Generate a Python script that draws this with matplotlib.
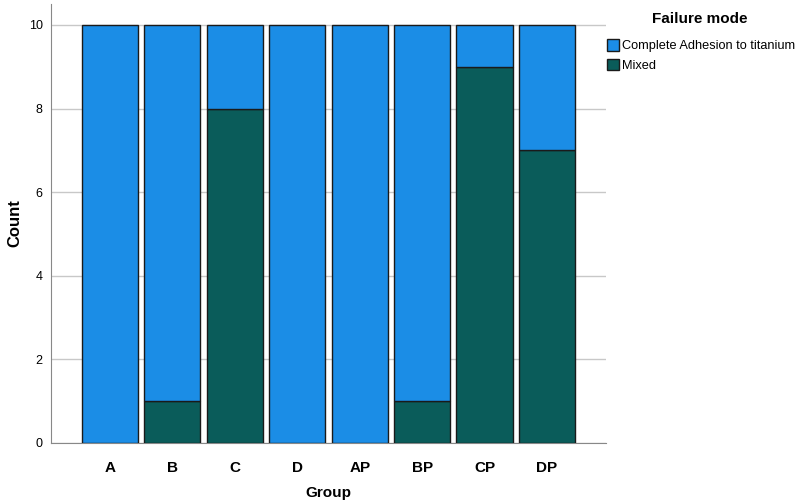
import numpy as np
import matplotlib.pyplot as plt
from matplotlib.patches import Patch

plt.rcParams['font.family'] = ['Liberation Sans', 'DejaVu Sans']

# Data
groups = ['A', 'B', 'C', 'D', 'AP', 'BP', 'CP', 'DP']
mixed = [0, 1, 8, 0, 0, 1, 9, 7]
adhesion = [10, 9, 2, 10, 10, 9, 1, 3]

blue = '#1b8de6'
teal = '#0a5c5a'

fig = plt.figure(figsize=(7.96, 5.01), dpi=100)
ax = fig.add_axes([0.064, 0.116, 0.697, 0.876])

x = np.arange(len(groups))
ax.bar(x, mixed, width=0.9, color=teal, edgecolor='#1a1a1a', linewidth=1.0, zorder=3)
ax.bar(x, adhesion, width=0.9, bottom=mixed, color=blue, edgecolor='#1a1a1a', linewidth=1.0, zorder=3)

ax.set_xlim(-0.944, 7.94)
ax.set_ylim(0, 10.5)
ax.set_yticks([0, 2, 4, 6, 8, 10])
ax.set_xticks(x)
ax.set_xticklabels(groups, fontsize=11, fontweight='bold')
ax.tick_params(axis='x', length=0, pad=13)
ax.tick_params(axis='y', length=0, pad=6, labelsize=9)
ax.grid(axis='y', color='#c8c8c8', linewidth=1.0, zorder=0)

for s in ['top', 'right']:
    ax.spines[s].set_visible(False)
ax.spines['left'].set_color('#888888')
ax.spines['bottom'].set_color('#888888')

ax.set_xlabel('Group', fontsize=11, fontweight='bold', labelpad=8)
ax.set_ylabel('Count', fontsize=12, fontweight='bold')
ax.yaxis.set_label_coords(-0.051, 0.5)

# legend with separate title
fig.text(0.879, 0.963, 'Failure mode', fontsize=11, fontweight='bold', ha='center', va='center')
handles = [Patch(facecolor=blue, edgecolor='#1a1a1a', label='Complete Adhesion to titanium'),
           Patch(facecolor=teal, edgecolor='#1a1a1a', label='Mixed')]
leg = fig.legend(handles=handles, loc='upper left', bbox_to_anchor=(0.762, 0.922),
                 frameon=False, fontsize=9.2,
                 handlelength=1.0, handleheight=1.0, handletextpad=0.2,
                 labelspacing=0.5, borderaxespad=0, borderpad=0)

fig.savefig('out.png', dpi=100)
